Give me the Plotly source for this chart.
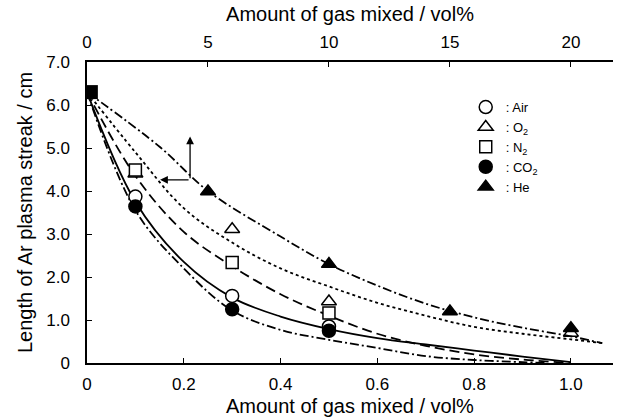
import plotly.graph_objects as go

# ---------------- data ----------------
# start point shared by all gases
start_x = [0.008]
start_y = [6.3]

# measured points (bottom axis, vol%)
air_x = [0.1, 0.3, 0.5]
air_y = [3.87, 1.56, 0.85]
o2_x = [0.1, 0.3, 0.5, 1.0]
o2_y = [4.40, 3.11, 1.43, 0.70]
n2_x = [0.1, 0.3, 0.5]
n2_y = [4.49, 2.34, 1.16]
co2_x = [0.1, 0.3, 0.5]
co2_y = [3.64, 1.25, 0.75]
# He on top axis (vol%)
he_x = [5, 10, 15, 20]
he_y = [3.99, 2.30, 1.20, 0.81]

# fitted curves
air_cx = [0, 0.1, 0.2, 0.3, 0.4, 0.5, 0.6, 0.7, 0.8, 0.9, 1.0]
air_cy = [6.3, 3.75, 2.35, 1.52, 1.08, 0.79, 0.58, 0.43, 0.29, 0.15, 0.02]
o2_cx = [0, 0.1, 0.2, 0.3, 0.4, 0.5, 0.6, 0.7, 0.8, 0.9, 1.0, 1.067]
o2_cy = [6.3, 4.9, 3.6, 2.8, 2.2, 1.78, 1.40, 1.10, 0.84, 0.68, 0.55, 0.46]
n2_cx = [0, 0.1, 0.2, 0.3, 0.4, 0.5, 0.6, 0.7, 0.8, 0.9, 1.0]
n2_cy = [6.3, 4.35, 3.05, 2.25, 1.60, 1.10, 0.68, 0.40, 0.20, 0.08, 0.0]
co2_cx = [0, 0.1, 0.2, 0.3, 0.4, 0.5, 0.6, 0.7, 0.8, 0.9, 0.95]
co2_cy = [6.3, 3.55, 2.20, 1.22, 0.77, 0.54, 0.35, 0.16, 0.07, 0.02, 0.0]
he_cx = [0, 3, 5, 8, 10, 12, 14, 16, 18, 20, 21.3]
he_cy = [6.3, 5.03, 4.0, 2.94, 2.30, 1.80, 1.38, 1.06, 0.82, 0.62, 0.46]

# tick labels
x_ticks = [0, 0.2, 0.4, 0.6, 0.8, 1.0]
x_ticktext = ["0", "0.2", "0.4", "0.6", "0.8", "1.0"]
x2_ticks = [0, 5, 10, 15, 20]
x2_ticktext = ["0", "5", "10", "15", "20"]
y_ticks = [0, 1, 2, 3, 4, 5, 6, 7]
y_ticktext = ["0", "1.0", "2.0", "3.0", "4.0", "5.0", "6.0", "7.0"]

x_title = "Amount of gas mixed / vol%"
y_title = "Length of Ar plasma streak / cm"

# arrow (points to axes used)
arrow_origin = (0.213, 4.26)
arrow_up_y = 5.27
arrow_left_x = 0.151

FONT = "Liberation Sans, Arial, Helvetica, sans-serif"
BLACK = "black"
LW = 1.8

fig = go.Figure()

def curve(x, y, dash, xaxis="x"):
    fig.add_trace(go.Scatter(x=x, y=y, mode="lines", xaxis=xaxis,
                             line=dict(color=BLACK, width=LW, dash=dash, shape="spline", smoothing=1.0),
                             showlegend=False, hoverinfo="skip"))

curve(air_cx, air_cy, "solid")
curve(o2_cx, o2_cy, "3px,3px")
curve(n2_cx, n2_cy, "10px,5px")
curve(co2_cx, co2_cy, "9px,3px,2px,3px")
curve(he_cx, he_cy, "9px,3px,2px,3px", xaxis="x2")

def pts(x, y, name, symbol, filled, rank, xaxis="x", size=12):
    fig.add_trace(go.Scatter(
        x=x, y=y, mode="markers", name=name, xaxis=xaxis, legendrank=rank,
        marker=dict(symbol=symbol, size=size, color=BLACK if filled else "white",
                    line=dict(color=BLACK, width=1.5))))

pts(o2_x, o2_y, ": O<sub>2</sub>", "triangle-up", False, 2, size=13)
pts(n2_x, n2_y, ": N<sub>2</sub>", "square", False, 3)
pts(air_x, air_y, ": Air", "circle", False, 1, size=13)
pts(co2_x, co2_y, ": CO<sub>2</sub>", "circle", True, 4, size=13)
pts(he_x, he_y, ": He", "triangle-up", True, 5, xaxis="x2", size=13)

fig.add_trace(go.Scatter(x=start_x, y=start_y, mode="markers", showlegend=False,
                         marker=dict(symbol="square", size=14, color=BLACK)))

ox, oy = arrow_origin
for hx, hy in [(ox, arrow_up_y), (arrow_left_x, oy)]:
    fig.add_annotation(x=hx, y=hy, ax=ox, ay=oy, xref="x", yref="y", axref="x", ayref="y",
                       showarrow=True, arrowhead=2, arrowsize=1.2, arrowwidth=1.3,
                       arrowcolor=BLACK, text="")

# bottom axis title (placed close under the tick labels, as in the reference)
fig.add_annotation(text=x_title, xref="paper", yref="paper", x=0.5, y=0, xanchor="center",
                   yanchor="middle", yshift=-43, showarrow=False,
                   font=dict(family=FONT, size=20, color=BLACK))

axis_common = dict(showline=True, linecolor=BLACK, linewidth=1.5, ticks="inside", ticklen=5,
                   tickwidth=1.2, tickcolor=BLACK, showgrid=False, zeroline=False,
                   tickfont=dict(family=FONT, size=17, color=BLACK),
                   title_font=dict(family=FONT, size=20, color=BLACK))

fig.update_layout(
    width=617, height=417,
    margin=dict(l=87, r=4, t=62, b=54),
    paper_bgcolor="white", plot_bgcolor="white",
    font=dict(family=FONT, color=BLACK),
    xaxis=dict(range=[0, 1.087], tickvals=x_ticks, ticktext=x_ticktext, ticklabelstandoff=5,
               **axis_common),
    xaxis2=dict(range=[0, 21.74], tickvals=x2_ticks, ticktext=x2_ticktext, overlaying="x",
                side="top", ticklabelstandoff=5,
                title=dict(text=x_title, standoff=6), **axis_common),
    yaxis=dict(range=[0, 7], tickvals=y_ticks, ticktext=y_ticktext, ticklabelstandoff=12,
               title=dict(text=y_title, standoff=8), **axis_common),
    legend=dict(x=0.72, y=0.9, xanchor="left", yanchor="top", bgcolor="rgba(0,0,0,0)",
                font=dict(family=FONT, size=13, color=BLACK), itemwidth=30, tracegroupgap=0),
    showlegend=True,
)

# remove the browser's default 8px body margin so the figure fills the window exactly
fig.write_html("out.html", config={"displayModeBar": False},
               post_script="document.body.style.margin='0px';document.body.style.overflow='hidden';")
